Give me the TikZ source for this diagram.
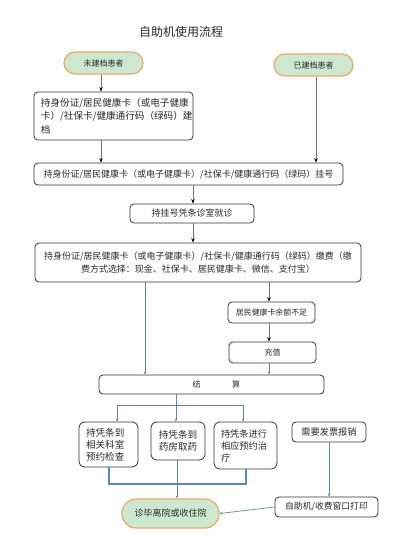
\documentclass[tikz,border=0pt]{standalone}
\usepackage{fontspec}
\setmainfont{Noto Sans CJK SC}
\usetikzlibrary{arrows.meta}
\definecolor{gfill}{HTML}{CCE8CF}
\definecolor{oline}{HTML}{F4A765}
\definecolor{bline}{HTML}{5B84C0}
\definecolor{txt}{HTML}{2A2A2A}
\begin{document}
\begin{tikzpicture}[x=1pt,y=-1pt,
  every node/.style={text=txt,inner sep=0pt},
  box/.style={draw=black!80,line width=0.8pt,rounded corners=4pt,minimum width=#1},
  term/.style={draw=oline,line width=1.2pt,fill=gfill,rounded corners=11pt,minimum width=79pt,minimum height=22pt,font=\fontsize{8}{10}\selectfont},
  arr/.style={draw=black!55,line width=0.8pt,-{Stealth[length=4.5pt,width=3.5pt,color=black]}},
  barr/.style={draw=bline,line width=0.7pt,-{Stealth[length=3pt,width=2.5pt]}},
  bline/.style={draw=bline,line width=0.7pt},
  thick blue/.style={draw=bline,line width=1.6pt}
]
\useasboundingbox[fill=white] (0,0) rectangle (400,555);
\node (title) at (181,32) {\fontsize{12}{14}\selectfont 自助机使用流程};
\node[term] (s1) at (103.5,63) {未建档患者};
\node[term] (s2) at (313.5,65) {已建档患者};
\node[box=159pt,minimum height=48pt,text width=145pt,align=left,font=\fontsize{9.6}{13.5}\selectfont] (b1) at (113.5,116)
  {持身份证/居民健康卡（或电子健康\\卡）/社保卡/健康通行码（绿码）建\\档};
\node[box=309pt,minimum height=22pt,font=\fontsize{9}{11}\selectfont] (b2) at (188.5,174)
  {持身份证/居民健康卡（或电子健康卡）/社保卡/健康通行码（绿码）挂号};
\node[box=124pt,minimum height=19pt,font=\fontsize{9}{11}\selectfont] (b3) at (192,213.5) {持挂号凭条诊室就诊};
\node[box=326pt,minimum height=39pt,align=center,font=\fontsize{9}{12.5}\selectfont] (b4) at (198,262.5)
  {持身份证/居民健康卡（或电子健康卡）/社保卡/健康通行码（绿码）缴费（缴\\费方式选择：现金、社保卡、居民健康卡、微信、支付宝）};
\node[box=87pt,minimum height=21pt,font=\fontsize{7.9}{10}\selectfont] (b5) at (271.5,312.5) {居民健康卡余额不足};
\node[box=87pt,minimum height=21pt,font=\fontsize{8}{10}\selectfont] (b6) at (272.5,352.5) {充值};
\node[box=225pt,minimum height=19pt] (b7) at (211.5,384.5) {};
\node[font=\fontsize{8}{10}\selectfont] (j1) at (196.5,384.5) {结};
\node[font=\fontsize{8}{10}\selectfont] (j2) at (236,384.5) {算};
\node[box=59pt,minimum height=45pt,rounded corners=6pt,text width=45pt,align=left,font=\fontsize{9.6}{12}\selectfont] (ba) at (108.5,444.5) {持凭条到\\相关科室\\预约检查};
\node[box=54pt,minimum height=38pt,rounded corners=6pt,align=left,font=\fontsize{9.6}{12}\selectfont] (bb) at (178,441) {持凭条到\\药房取药};
\node[box=63pt,minimum height=47pt,rounded corners=6pt,text width=49pt,align=left,font=\fontsize{9.2}{12}\selectfont] (bc) at (245.5,445.5) {持凭条进行\\相应预约治\\疗};
\node[box=74pt,minimum height=20pt,font=\fontsize{9.2}{11}\selectfont] (bd) at (329,432) {需要发票报销};
\node[box=103pt,minimum height=20pt,font=\fontsize{8.8}{11}\selectfont] (be) at (326.5,507) {自助机/收费窗口打印};
\node[term,minimum width=97pt,minimum height=29pt,rounded corners=14pt,font=\fontsize{9}{11}\selectfont] (fin) at (170.5,513.5) {诊毕离院或收住院};
% column coordinates
\coordinate (x101) at (101,0);
\coordinate (x316) at (316,0);
\coordinate (x193) at (193,0);
\coordinate (x145) at (145,0);
\coordinate (x269) at (269,0);
\coordinate (x176) at (176,0);
\coordinate (x117) at (117,0);
\coordinate (x243) at (243,0);
\coordinate (x109) at (109,0);
\coordinate (x246) at (246,0);
\coordinate (x177) at (177,0);
\coordinate (x329) at (329,0);
\coordinate (hy) at (0,405);
\coordinate (ly) at (0,484);
% connectors
\draw[arr] (s1.south -| x101) -- (b1.north -| x101);
\draw[arr] (b1.south -| x101) -- (b2.north -| x101);
\draw[arr] (s2.south -| x316) -- (b2.north -| x316);
\draw[arr] (b2.south -| x193) -- (b3.north -| x193);
\draw[arr] (b3.south -| x193) -- (b4.north -| x193);
\draw[barr] (b4.south -| x145) -- (b7.north -| x145);
\draw[arr] (b4.south -| x269) -- (b5.north -| x269);
\draw[arr] (b5.south -| x269) -- (b6.north -| x269);
\draw[barr] (b6.south -| x269) -- (b7.north -| x269);
\draw[bline] (b7.south -| x176) -- (hy -| x176);
\draw[bline] (hy -| x117) -- (hy -| x243);
\draw[barr] (hy -| x117) -- (ba.north -| x117);
\draw[barr] (hy -| x176) -- (bb.north -| x176);
\draw[barr] (hy -| x243) -- (bc.north -| x243);
\draw[thick blue] (ba.south -| x109) -- (ly -| x109) -- (ly -| x246) -- (bc.south -| x246);
\draw[barr] (bb.south -| x177) -- (fin.north -| x177);
\draw[barr] (bd.south -| x329) -- (be.north -| x329);
\draw[barr] (be.west) -- (fin.east);
\end{tikzpicture}
\end{document}
